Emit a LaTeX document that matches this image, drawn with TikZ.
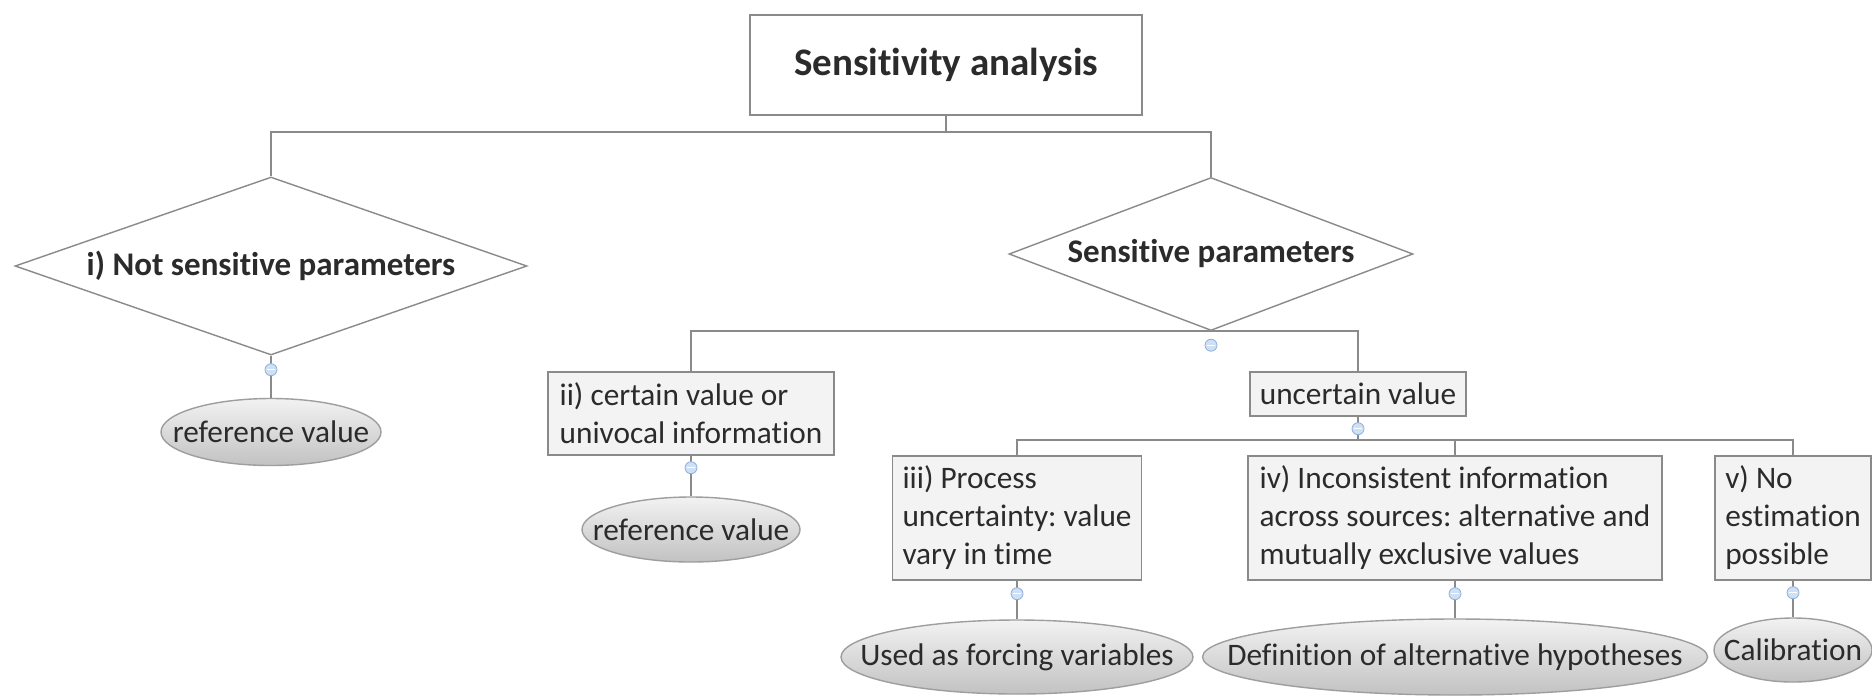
\documentclass[tikz,border=0pt]{standalone}
\usepackage{fontspec}
\setmainfont[Ligatures={NoCommon}]{Carlito}
\usetikzlibrary{shapes.geometric,calc}
\definecolor{linec}{HTML}{8A8A8A}
\definecolor{boxfill}{HTML}{F3F3F3}
\definecolor{txt}{HTML}{2B2B2B}
\definecolor{iconfill}{HTML}{CFE0F5}
\definecolor{icondraw}{HTML}{8FB0DD}
\newcommand{\zw}[1]{\makebox[0pt]{#1}}
\frenchspacing
\begin{document}
\begin{tikzpicture}[x=0.5pt,y=-0.5pt,
  every node/.style={text=txt},
  conn/.style={draw=linec,line width=0.8pt},
  titlebox/.style={draw=linec,fill=white,line width=0.8pt,minimum width=196pt,minimum height=50pt,inner sep=0pt,font=\fontsize{19.5}{23}\selectfont\bfseries},
  choice/.style={diamond,draw=linec,fill=white,line width=0.7pt,inner sep=0pt,font=\fontsize{16.5}{20}\selectfont\bfseries},
  infobox/.style={rectangle,draw=linec,fill=boxfill,line width=0.7pt,inner sep=0pt,align=left,font=\fontsize{15.65}{19}\selectfont},
  leaf/.style={ellipse,draw=black!38,top color=black!5,bottom color=black!24,line width=0.7pt,inner sep=0pt,font=\fontsize{15.65}{19}\selectfont},
  icon/.style={circle,draw=icondraw,fill=iconfill,line width=0.4pt,minimum size=6pt,inner sep=0pt,
    path picture={\draw[white,line width=0.6pt] ([xshift=-1.8pt]path picture bounding box.center) -- ([xshift=1.8pt]path picture bounding box.center);}}
]
\useasboundingbox (0,0) rectangle (1872,697);
\fill[white] (0,0) rectangle (1872,697);

\node[titlebox] (top) at (946,65) {Sensitivity analysis};
\node[choice,minimum width=256pt,minimum height=89pt] (d1) at (271,266) {\zw{i) Not sensitive parameters}};
\node[choice,minimum width=202pt,minimum height=76.5pt] (d2) at (1211,254) {\zw{Sensitive parameters}};
\node[leaf,minimum width=110pt,minimum height=33.5pt] (r1) at (271,432) {\zw{reference value}};
\node[infobox,minimum width=143pt,minimum height=41.5pt] (b2) at (691,413.5) {ii) certain value or\\univocal information};
\node[leaf,minimum width=109pt,minimum height=32.5pt] (r2) at (691,529.5) {\zw{reference value}};
\node[infobox,minimum width=108pt,minimum height=22pt,align=center] (unc) at (1358,394) {uncertain value};
\node[infobox,minimum width=124.5pt,minimum height=62pt] (b3) at (1017,518) {iii) Process\\uncertainty: value\\vary in time};
\node[infobox,minimum width=207pt,minimum height=62pt] (b4) at (1455,518) {iv) Inconsistent information\\across sources: alternative and\\mutually exclusive values};
\node[infobox,minimum width=78pt,minimum height=62pt] (b5) at (1793,518) {v) No\\estimation\\possible};
\node[leaf,minimum width=176pt,minimum height=37pt] (l3) at (1017,657) {\zw{Used as forcing variables}};
\node[leaf,minimum width=252.5pt,minimum height=38pt] (l4) at (1455,657) {\zw{Definition of alternative hypotheses}};
\node[leaf,minimum width=79pt,minimum height=32pt] (l5) at (1793,650) {\zw{Calibration}};

\coordinate (j1) at (946,132);
\draw[conn] (top.south) -- (j1);
\draw[conn] (d1.north) |- (j1) -| (d2.north);
\draw[conn] (d1.south) -- (r1.north);
\draw[conn] (b2.north) |- (d2.south) -| (unc.north);
\draw[conn] (b2.south) -- (r2.north);
\coordinate (j3) at ($(unc.south)+(0,23)$);
\draw[conn] (unc.south) -- (j3);
\draw[conn] (b3.north) |- (j3) -| (b5.north);
\draw[conn] (b4.north) -- (b4.north |- j3);
\draw[conn] (b3.south) -- (l3.north);
\draw[conn] (b4.south) -- (l4.north);
\draw[conn] (b5.south) -- (l5.north);

\foreach \n/\d in {d1/14,d2/14,b2/12,unc/12,b3/13,b4/13,b5/12}
  \node[icon] (ic-\n) at ($(\n.south)+(0,\d)$) {};
\end{tikzpicture}
\end{document}
